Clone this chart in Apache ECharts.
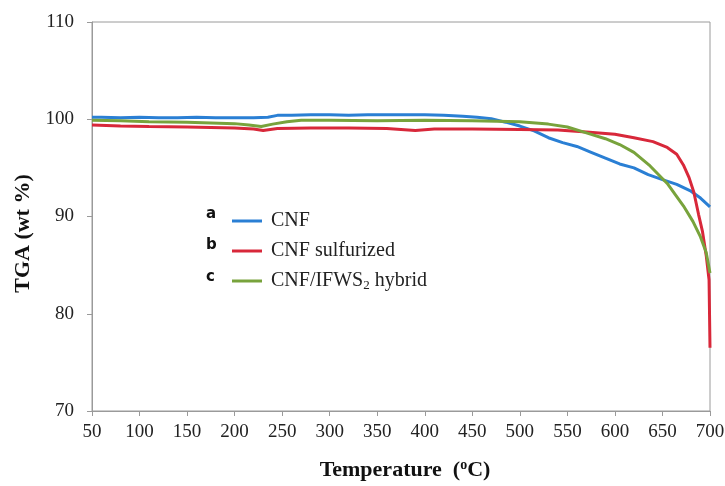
<!DOCTYPE html>
<html>
<head>
<meta charset="utf-8">
<script src="https://cdn.jsdelivr.net/npm/echarts@6/dist/echarts.min.js"></script>
<style>
  html, body { margin: 0; padding: 0; background: #fff; }
  #container { width: 725px; height: 486px; }
</style>
</head>
<body>
<div id="container"></div>
<script>
// TGA curves
var cnfTemp = [50, 60, 80, 100, 120, 140, 160, 180, 200, 220, 235, 245, 260, 280, 300, 320, 340, 360, 380, 400, 420, 440, 455, 470, 485, 500, 515, 530, 545, 560, 575, 590, 605, 620, 635, 650, 665, 680, 690, 700];
var cnfVal = [100.2, 100.2, 100.15, 100.2, 100.15, 100.15, 100.2, 100.15, 100.15, 100.15, 100.2, 100.4, 100.4, 100.45, 100.45, 100.4, 100.45, 100.45, 100.45, 100.45, 100.4, 100.3, 100.2, 100.05, 99.7, 99.3, 98.8, 98.1, 97.6, 97.2, 96.6, 96.0, 95.4, 95.0, 94.3, 93.8, 93.3, 92.6, 91.9, 91.0];

var sulfTemp = [50, 80, 110, 150, 200, 220, 230, 245, 280, 320, 360, 390, 410, 450, 500, 540, 570, 600, 620, 640, 655, 665, 672, 678, 683, 688, 692, 696, 699, 700];
var sulfVal = [99.4, 99.3, 99.25, 99.2, 99.1, 99.0, 98.85, 99.05, 99.1, 99.1, 99.05, 98.85, 99.0, 99.0, 98.95, 98.9, 98.7, 98.45, 98.1, 97.7, 97.1, 96.4, 95.3, 94.0, 92.5, 90.2, 88.5, 86.0, 83.5, 76.5];

var hybTemp = [50, 80, 110, 150, 200, 215, 228, 240, 255, 270, 300, 350, 400, 450, 500, 530, 550, 570, 590, 605, 620, 637, 655, 672, 682, 690, 696, 700];
var hybVal = [99.9, 99.85, 99.75, 99.7, 99.55, 99.4, 99.25, 99.5, 99.75, 99.9, 99.9, 99.85, 99.9, 99.85, 99.75, 99.5, 99.2, 98.6, 98.0, 97.4, 96.6, 95.2, 93.4, 91.1, 89.5, 87.9, 86.3, 84.2];

var seriesNames = ['CNF', 'CNF sulfurized', 'CNF/IFWS2 hybrid'];
var seriesColors = ['#2a7fd4', '#d8283a', '#78a33c'];

function pairs(xs, ys) {
    return xs.map(function (x, i) { return [x, ys[i]]; });
}

var serif = '"Liberation Serif", "Times New Roman", serif';
var letterFont = 'bold 15px "DejaVu Sans", sans-serif';

var myChart = echarts.init(document.getElementById('container'));
myChart.setOption({
    animation: false,
    grid: {
        left: 92, right: 15, top: 22, bottom: 75,
        outerBoundsMode: 'none',
        containLabel: false,
        show: true, borderColor: '#9a9a9a', borderWidth: 1
    },
    legend: {
        orient: 'vertical',
        left: 227, top: 206,
        itemWidth: 30, itemHeight: 3,
        itemGap: 10,
        icon: 'rect',
        data: seriesNames,
        formatter: function (name) {
            if (name === 'CNF/IFWS2 hybrid') return '{t|CNF/IFWS}{sub|2}{t| hybrid}';
            return '{t|' + name + '}';
        },
        textStyle: {
            padding: [0, 0, 0, 4],
            rich: {
                t: { fontFamily: serif, fontSize: 20, color: '#222', lineHeight: 22 },
                sub: { fontFamily: serif, fontSize: 13, color: '#222', verticalAlign: 'bottom', lineHeight: 14, padding: [8, 0, 0, 0] }
            }
        }
    },
    graphic: [
        { type: 'text', left: 206, top: 207, style: { text: 'a', font: letterFont, fill: '#111' } },
        { type: 'text', left: 206, top: 238, style: { text: 'b', font: letterFont, fill: '#111' } },
        { type: 'text', left: 206, top: 270, style: { text: 'c', font: letterFont, fill: '#111' } }
    ],
    xAxis: {
        type: 'value',
        min: 50, max: 700, interval: 50,
        name: '{b|Temperature  (}{sup|o}{b|C)}',
        nameLocation: 'middle',
        nameGap: 47,
        nameTextStyle: {
            padding: [0, 0, 0, 8],
            rich: {
                b: { fontFamily: serif, fontSize: 22, fontWeight: 'bold', color: '#111', lineHeight: 24 },
                sup: { fontFamily: serif, fontSize: 14, fontWeight: 'bold', color: '#111', verticalAlign: 'top', lineHeight: 12, padding: [0, 0, 10, 0] }
            }
        },
        axisLine: { show: true, lineStyle: { color: '#9a9a9a' } },
        axisTick: { show: true, length: 5, lineStyle: { color: '#9a9a9a' } },
        axisLabel: { fontFamily: serif, fontSize: 19, color: '#222', margin: 12 },
        splitLine: { show: false }
    },
    yAxis: {
        type: 'value',
        min: 70, max: 110, interval: 10,
        name: 'TGA (wt %)',
        nameLocation: 'middle',
        nameGap: 58,
        nameTextStyle: { fontFamily: serif, fontSize: 22, fontWeight: 'bold', color: '#111', padding: [0, 34, 0, 0] },
        axisLine: { show: true, lineStyle: { color: '#9a9a9a' } },
        axisTick: { show: true, length: 5, lineStyle: { color: '#9a9a9a' } },
        axisLabel: { fontFamily: serif, fontSize: 19, color: '#222', margin: 18 },
        splitLine: { show: false }
    },
    series: [
        {
            name: seriesNames[0], type: 'line', showSymbol: false,
            lineStyle: { width: 3, color: seriesColors[0] }, itemStyle: { color: seriesColors[0] },
            data: pairs(cnfTemp, cnfVal)
        },
        {
            name: seriesNames[1], type: 'line', showSymbol: false,
            lineStyle: { width: 3, color: seriesColors[1] }, itemStyle: { color: seriesColors[1] },
            data: pairs(sulfTemp, sulfVal)
        },
        {
            name: seriesNames[2], type: 'line', showSymbol: false,
            lineStyle: { width: 3, color: seriesColors[2] }, itemStyle: { color: seriesColors[2] },
            data: pairs(hybTemp, hybVal)
        }
    ]
});
</script>
</body>
</html>
